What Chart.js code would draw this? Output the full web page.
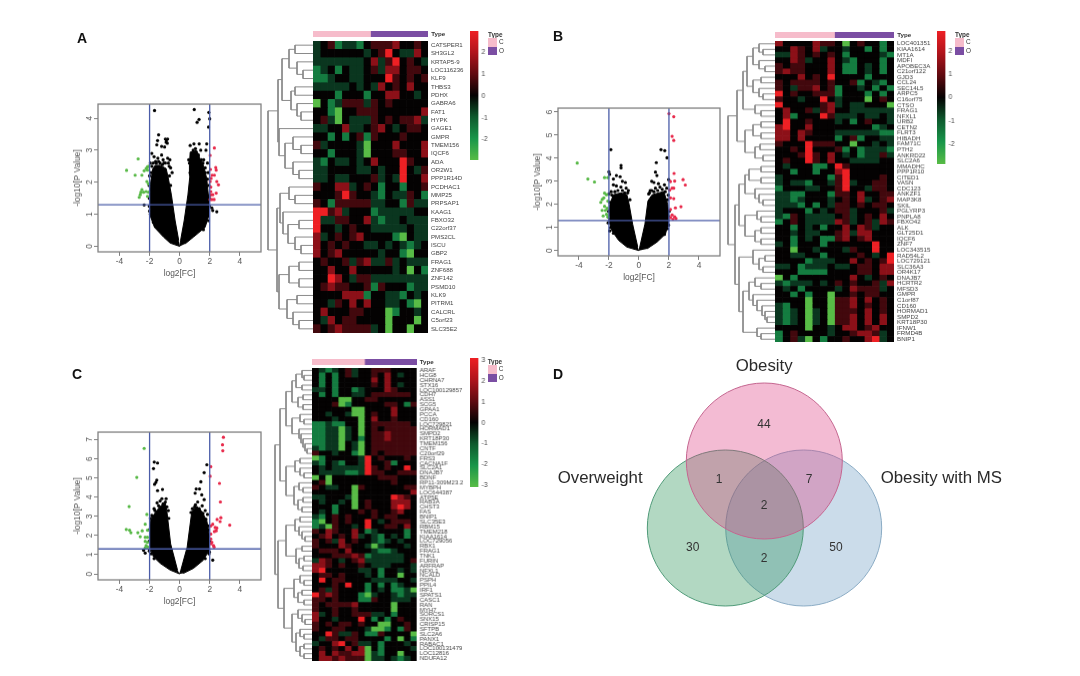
<!DOCTYPE html>
<html>
<head>
<meta charset="utf-8">
<style>
  html, body { margin: 0; padding: 0; background: #fff; }
  #page { position: relative; width: 1080px; height: 676px; overflow: hidden; filter: blur(0.4px); font-family: "Liberation Sans", Arial, sans-serif; }
  #page canvas { position: absolute; }
  .txt { position: absolute; white-space: nowrap; line-height: 1; color: #333; }
  .key { position: absolute; }
</style>
<script src="https://cdn.jsdelivr.net/npm/chart.js@4/dist/chart.umd.min.js"></script>
</head>
<body>
<div id="page"></div>
<script>
// ---- volcano data: [log2FC, -log10P]
const xTicks = [-4, -2, 0, 2, 4];
const fcCuts = [-2, 2];
const pCut = 1.3;

const aLeftLobe = [[0,0],[-.63,.1],[-1.07,.29],[-1.67,.59],[-1.92,.9],[-2,1.36],[-2,1.71],[-1.92,2.02],[-1.78,2.43],[-1.63,2.53],[-1.3,2.53],[-.9,2.43],[-.75,2.12],[-.55,1.61],[-.3,.8],[-.06,.18]];
const aRightLobe = [[0,0],[.06,.18],[.3,.8],[.55,1.61],[.68,2.2],[.65,2.53],[.7,2.94],[1.14,2.99],[1.36,2.73],[1.58,2.53],[1.8,2.12],[1.95,1.41],[1.9,.9],[1.69,.59],[.92,.29],[.37,.08]];
const aBlack = [[-1.67,4.24],[.97,4.27],[1.94,4.18],[2,3.98],[1.29,3.96],[1.16,3.87],[1.92,3.72],[-1.4,3.48],[-1.47,3.3],[-1.52,3.17],[-1.2,3.12],[-.95,3.35],[-.88,3.32],[-.8,3.35],[-.9,3.25],[-.82,3.22],[-1,3.1],[.7,3.15],[.95,3.2],[1.3,3.2],[1.8,3.2],[1.4,3],[1.75,3],[-1.85,2.9],[-1.7,2.8],[-1.45,2.75],[-1.2,2.85],[-1.1,2.7],[-.8,2.75],[-.65,2.7],[-1.95,2.6],[-1.6,2.65],[-1.3,2.6],[-.95,2.6],[.8,2.85],[1,2.8],[1.15,2.75],[1.6,2.7],[1.85,2.6],[1.7,2.45],[1.9,2.3],[-.6,2.45],[-.5,2.3],[2.14,1.2],[2.2,1.12],[2.47,1.08],[1.92,.8],[1.58,.52],[-2.36,1.29],[-2,1.1],[-1.95,1],[-2.02,1.25],[1.98,1.25],[-1.9,2.3],[-1.85,2.5],[-1.75,2.6],[-1.55,2.6],[-1.4,2.65],[-1.15,2.55],[-1.05,2.6],[-.7,2.5],[-.75,2.6],[-2,2.2],[-2.03,1.9],[-2.02,1.5],[-.68,2.2],[-.6,1.9],[-1.9,.95],[-1.75,.75],[-1.6,.62],[.6,2.7],[.65,2.6],[.7,2.3],[.9,3],[1.05,3.05],[1.25,2.85],[1.45,2.7],[1.55,2.6],[1.7,2.3],[1.85,2.1],[1.95,1.9],[2.02,1.6],[1.98,1.5],[1.85,.95],[1.7,.75]];
const aGreen = [[-2.76,2.73],[-3.53,2.37],[-2.96,2.22],[-2.51,2.22],[-2.36,2.36],[-2.23,2.43],[-2.14,2.48],[-2.05,2.5],[-2.14,2.38],[-2.18,2.02],[-2.07,1.95],[-2.51,1.77],[-2.58,1.69],[-2.4,1.69],[-2.23,1.71],[-2.07,1.69],[-2.62,1.61],[-2.69,1.53],[-2.14,1.56]];
const aRed = [[2.31,3.07],[2.03,2.84],[2.4,2.46],[2.43,2.38],[2.05,2.4],[2.16,2.22],[2.31,2.22],[2.09,2.12],[2.47,2.02],[2.58,1.92],[2.03,2.02],[2.07,1.85],[2.43,1.66],[2.2,1.61],[2.07,1.61],[2.02,1.46],[2.14,1.46],[2.29,1.46],[2.07,1.71]];

const bLeftLobe = [[0,0],[-.8,.15],[-1.35,.44],[-1.8,.86],[-2,1.29],[-1.94,2],[-1.7,2.42],[-1.2,2.5],[-.8,2.42],[-.65,2],[-.42,1.15],[-.08,.16]];
const bRightLobe = [[0,0],[.06,.16],[.4,1.15],[.6,2.15],[.88,2.42],[1.66,2.56],[1.92,2],[2,1.29],[1.77,.72],[1.21,.37],[.55,.08]];
const bBlack = [[-1.87,4.37],[1.47,4.37],[1.72,4.33],[1.87,4.02],[1.16,3.81],[-1.19,3.69],[-1.19,3.58],[-2,3.41],[-1.95,3.3],[-1.5,3.25],[-1.7,3.1],[-1.25,3.2],[-1.1,3],[-.9,2.95],[-1.7,2.85],[-1.5,2.8],[-1.2,2.75],[-.85,2.7],[-.7,2.6],[-1.85,2.55],[-2,2.45],[1.1,3.4],[1.2,3.25],[.85,3],[1,2.95],[1.3,2.9],[1.98,3.07],[1.7,2.85],[1.4,2.75],[1.1,2.7],[.75,2.6],[1.85,2.7],[1.95,2.4],[.65,2.45],[-2.05,1.2],[-1.95,.85],[1.98,1.1],[-2.02,1.45],[1.95,1.5],[-1.8,2.4],[-1.6,2.55],[-1.4,2.6],[-1.1,2.6],[-.95,2.5],[-.75,2.5],[-1.95,2.1],[-2.02,1.7],[-.6,2.2],[-1.9,1],[-1.7,.75],[.7,2.5],[.85,2.6],[1,2.55],[1.25,2.6],[1.55,2.65],[1.75,2.55],[1.9,2.2],[2.02,1.7],[1.9,.95],[1.7,.7]];
const bGreen = [[-4.11,3.79],[-3.4,3.1],[-2.96,2.97],[-2.29,3.16],[-2.07,3.16],[-2.29,2.49],[-2.16,2.42],[-2.45,2.21],[-2.54,2.09],[-2.07,2.14],[-2.29,1.92],[-2.45,1.74],[-2.23,1.74],[-2.12,1.83],[-2.38,1.5],[-2.16,1.57],[-2.07,1.46],[-2.34,2.28]];
const bRed = [[2,5.93],[2.32,5.8],[2.21,4.95],[2.32,4.77],[2.34,3.34],[2.94,3.07],[3.09,2.84],[2.38,3.01],[2.1,2.99],[2.21,2.7],[2.32,2.7],[2.05,2.62],[2.1,2.28],[2.32,2.25],[2.8,1.9],[2.43,1.85],[2.1,1.78],[2.21,1.54],[2.38,1.46],[2.1,1.43],[2.47,1.39],[2.27,1.36]];

const cLeftLobe = [[0,0],[-.63,.2],[-1.29,.55],[-1.74,.89],[-2,1.4],[-2,2.08],[-1.96,2.76],[-1.63,3.19],[-1.29,3.53],[-.96,3.7],[-.85,3.27],[-.6,1.57],[-.14,.2]];
const cRightLobe = [[0,0],[.08,.2],[.5,1.4],[.81,3.27],[1.14,3.53],[1.47,3.27],[1.81,2.76],[1.96,2.08],[1.96,1.23],[1.58,.72],[.92,.29],[.25,.03]];
const cBlack = [[-1.69,5.83],[-1.47,5.78],[-1.74,5.49],[-1.52,4.89],[-1.58,4.77],[-1.67,4.67],[-1.47,4.34],[-1.14,4.4],[1.81,5.69],[1.63,5.28],[1.41,4.8],[1.1,4.43],[1.32,4.43],[1.03,4.21],[1.47,4.12],[1.63,3.87],[2.2,.72],[-1.18,3.92],[-.9,3.92],[-2.4,1.23],[-2.29,1.09],[-1.5,3.7],[-1.3,3.8],[-.95,3.75],[-1.7,3.4],[-1.85,3.05],[-1.45,3.15],[1.2,3.75],[1.5,3.55],[1.7,3.3],[1.85,3.1],[1,3.5],[1.9,2.5],[.75,3.2],[-.75,3.3],[-2.02,1.2],[1.98,1.15],[-1.95,2.9],[-1.8,3],[-1.65,3.3],[-1.4,3.55],[-1.1,3.65],[-.85,3.5],[-2.02,2.3],[-2.03,1.7],[-.72,2.9],[-1.9,1.05],[-1.7,.8],[.85,3.4],[1.05,3.6],[1.3,3.4],[1.55,3.15],[1.75,2.85],[1.9,2.3],[2,1.7],[1.95,1.05],[1.7,.8]];
const cGreen = [[-2.36,6.54],[-2.85,5.03],[-3.36,3.51],[-2.18,3.1],[-2.29,2.59],[-3.55,2.32],[-3.33,2.28],[-3.24,2.15],[-2.78,2.15],[-2.49,2.25],[-2.14,2.28],[-2.62,1.94],[-2.29,1.91],[-2.14,1.91],[-2.29,1.7],[-2.14,1.65],[-2.23,1.48],[-2.12,1.4],[-2.29,1.36]];
const cRed = [[2.91,7.12],[2.85,6.73],[2.87,6.42],[2.07,5.59],[2.03,5.09],[2.65,4.72],[2.71,3.75],[2.74,2.93],[2.49,2.84],[2.69,2.73],[3.33,2.54],[2.2,2.59],[2.07,2.5],[2.36,2.42],[2.47,2.39],[2.43,2.25],[2.31,2.21],[2.07,2.08],[2.07,1.82],[2.14,1.65],[2.25,1.48],[2.29,1.4],[2.09,1.57]];

// ---- heatmap rows, estimated from the crops (16 samples, 8 C then 8 O)
const typeNames = ["C", "O"];
const typeCounts = [8, 8];

const genesA = ["CATSPER1","SH3GL2","KRTAP5-9","LOC116236","KLF9","THBS3","PDHX","GABRA6","FAT1","HYPK","GAGE1","GMPR","TMEM156","IQCF6","ADA","OR2W1","PPP1R14D","PCDHAC1","MMP25","PRPSAP1","KAAG1","FBXO32","C22orf37","PMS2CL","ISCU","GBP2","FRAG1","ZNF688","ZNF142","PSMD10","KLK9","PITRM1","CALCRL","C5orf23","SLC35E2"];
const heatA = [
[-1,0,1,-2,-1,-1,-2,0,1,1,1,2,0,0,1,0],
[-1,0,0,0,0,0,0,-1,0,1,3,0,-1,-1,2,0],
[-1,-1,-1,-1,-1,-1,-1,0,2,-1,1,3,0,1,0,-1],
[-2,-1,0,-2,0,-1,-1,0,1,-1,2,2,0,1,1,0],
[-2,-2,-1,0,0,-1,-1,0,0,0,3,1,0,1,0,1],
[-1,-1,-1,-1,-1,0,-1,0,-1,2,0,1,0,2,0,0],
[0,0,0,-2,0,0,0,-2,0,0,2,2,0,0,-1,0],
[-3,0,-2,-1,1,1,1,-1,1,0,1,0,0,0,0,0],
[0,0,-2,-3,0,0,1,1,1,0,0,0,0,0,0,2],
[0,1,-1,-3,0,-1,-1,-1,1,0,1,0,1,1,2,-1],
[-1,-1,0,0,2,-1,-1,0,1,2,0,-1,0,1,1,0],
[0,0,-2,0,-2,0,1,-2,1,0,0,0,1,0,0,0],
[1,-1,0,0,0,0,-1,-3,0,0,0,2,0,0,0,2],
[0,0,-2,0,0,0,-1,-3,0,0,0,1,1,0,0,2],
[-1,-2,0,-1,-1,0,-1,0,2,0,0,0,3,1,0,0],
[-1,-1,0,0,0,0,-1,-1,0,-1,0,0,3,0,-1,1],
[-1,-1,0,-1,-1,0,0,0,1,-1,0,-1,3,0,0,2],
[1,0,0,2,2,-1,0,1,0,-2,0,0,-2,0,0,1],
[0,0,0,1,3,1,0,0,-1,-2,0,-1,-1,1,0,-2],
[1,0,-2,1,1,1,1,1,-1,-1,0,0,-2,1,-1,-1],
[3,3,1,2,-1,0,0,0,-2,-1,-1,-1,-1,-1,0,0],
[3,-1,-1,1,1,0,0,2,-1,-2,-1,-1,0,-1,-1,-1],
[3,0,0,-1,0,1,0,0,-1,-1,-1,-1,-1,0,-1,-1],
[2,-1,0,1,0,1,2,0,0,0,0,-2,-3,0,-1,-1],
[2,0,1,0,1,0,0,-1,-1,0,-1,0,-1,-2,-1,0],
[2,0,1,2,0,0,0,0,0,-1,0,0,-2,-3,0,0],
[0,1,0,0,1,-1,1,2,-1,-1,1,-1,0,-1,-1,-1],
[0,0,2,0,0,2,0,0,0,0,0,-1,0,-3,0,-2],
[0,0,3,2,0,-1,1,1,-1,-1,-1,-1,-1,-1,-1,-1],
[0,1,2,1,1,0,0,1,-2,1,0,0,0,-2,-1,-1],
[0,0,0,0,2,2,2,-2,0,0,-1,-1,-2,0,-1,0],
[0,0,-1,1,0,2,0,2,0,0,-1,-1,0,-2,-3,0],
[0,2,0,0,0,1,1,0,0,0,-3,-2,0,0,-1,0],
[0,-1,2,0,1,1,0,0,0,0,-3,0,0,0,-3,0],
[1,0,1,2,1,1,1,1,-1,0,-3,0,0,-3,0,0]
];

const genesB = ["LOC401351","KIAA1614","MT1A","MDFI","APOBEC3A","C21orf122","GJD3","CCL24","SEC14L5","ARPC5","C16orf75","CTSO","FRAG1","NFXL1","URB2","CETN2","FLRT3","HIBADH","FAM71C","PTH2","ANKRD22","SLC2A6","MMADHC","PPP1R10","CITED1","VASN","CDC123","ANKZF1","MAP3K8","SKIL","PGLYRP3","PNPLA8","FBXO42","ALK","GLT25D1","IQCF6","ZNF7","LOC343515","RAD54L2","LOC729121","SLC36A3","OR4K17","DNAJB7","HCRTR2","MFSD3","GMPR","C1orf87","CD160","HORMAD1","SMPD2","KRT18P30","IFNW1","FRMD4B","BNIP1"];
const heatB = [
[2,0,0,0,0,2,1,1,0,-3,0,1,0,0,-2,0],
[0,0,2,1,0,2,-1,0,0,-1,0,0,-2,0,-2,0],
[-1,-1,2,1,0,1,0,1,0,-2,0,0,0,0,-1,-2],
[0,0,2,1,-1,0,0,2,0,-1,-2,0,0,0,-2,0],
[1,0,1,1,0,0,0,2,0,-2,-2,0,-1,0,-2,0],
[1,2,1,1,0,0,0,2,0,-2,-2,0,-1,0,-2,0],
[0,0,0,2,0,1,0,3,0,0,0,0,-2,0,0,0],
[1,0,1,1,1,1,0,1,0,0,1,-2,0,-1,-2,0],
[1,0,-1,1,1,2,0,1,-2,0,0,-1,0,-2,0,-2],
[3,0,1,0,0,1,1,1,-2,0,0,0,-2,0,-2,0],
[1,0,0,-1,0,0,3,0,-1,0,0,0,-3,0,1,0],
[3,0,0,0,0,0,1,2,-1,0,-1,-1,0,0,0,-3],
[0,2,0,0,1,-1,1,2,0,0,-1,-1,-1,-1,-1,-1],
[0,2,-2,0,0,0,3,1,-1,-1,-1,0,-1,-1,0,-1],
[0,3,0,0,1,0,0,0,-1,0,-2,0,1,0,0,-1],
[2,3,0,0,2,0,0,0,0,0,0,0,0,-2,-1,0],
[2,2,0,2,1,0,0,0,-1,-1,-1,-1,-1,-1,-2,-2],
[2,2,0,2,0,0,0,0,-2,0,1,-2,0,0,-1,-1],
[1,0,0,0,3,1,1,1,0,0,-3,0,0,-1,0,-1],
[0,0,1,0,3,0,0,0,1,-2,0,-2,-1,-1,-1,-2],
[0,0,0,1,3,1,0,2,0,-1,0,-2,-1,-1,1,-1],
[0,1,0,0,3,1,0,2,0,0,-1,-1,-1,-1,0,0],
[0,-1,0,0,0,-2,-2,0,3,1,0,0,0,0,0,0],
[0,0,-2,0,0,-2,0,0,2,3,0,0,0,0,0,0],
[-1,0,0,0,0,0,0,-2,1,3,0,0,0,0,1,0],
[-1,0,-1,-1,-2,0,0,-1,1,3,-1,0,0,1,1,0],
[-2,0,0,0,-1,-1,0,0,1,3,0,0,-1,1,1,0],
[-1,-1,-2,-2,0,0,0,-2,1,1,0,2,0,0,1,1],
[-1,-1,-2,-1,0,0,0,-1,0,1,0,2,-1,0,1,2],
[-1,-1,-1,-2,0,-2,0,-1,1,1,0,1,0,1,1,0],
[-1,0,0,0,-2,0,-1,0,1,1,-1,0,0,0,1,-1],
[-1,-2,1,0,-1,-1,-1,-1,0,1,-1,0,1,0,2,0],
[-2,0,1,0,-1,-1,-1,-1,2,1,-1,0,1,-1,2,1],
[0,0,-2,0,-1,0,-2,0,0,2,0,2,1,-1,0,0],
[0,0,-1,0,-1,-1,0,0,1,2,-1,2,2,0,0,0],
[0,0,-2,0,-1,0,-2,-2,1,2,0,1,2,0,0,0],
[-1,0,-2,0,0,0,-2,0,0,0,0,0,0,3,0,0],
[0,0,-3,0,0,-1,0,0,0,-1,1,0,0,3,0,0],
[0,0,-1,-1,0,0,-2,0,0,0,0,1,0,-1,0,3],
[0,0,0,0,-2,-1,-1,-1,0,0,2,0,1,0,1,3],
[-1,-1,0,-2,-1,-1,-1,0,-1,-1,0,1,1,0,2,2],
[0,0,0,-2,-2,-2,-2,0,0,0,0,1,1,0,2,2],
[-3,0,-2,0,0,0,0,0,0,0,2,0,-1,0,1,0],
[-1,-2,-1,-1,-1,0,-1,0,1,0,1,0,0,1,-1,2],
[0,-1,0,-2,0,0,0,0,-1,0,2,1,1,1,-1,0],
[0,0,-2,0,-2,0,0,-3,0,0,1,0,1,1,0,0],
[0,0,0,0,-3,0,0,-3,1,1,2,0,2,0,1,0],
[-1,-2,0,0,-3,0,0,-3,1,1,2,0,1,0,1,0],
[-1,-2,-1,0,-3,-1,0,-3,1,1,1,0,2,0,1,0],
[-1,-2,-1,0,-3,-1,0,-3,1,1,2,0,2,0,2,0],
[-1,-2,-1,0,-3,-1,0,-3,1,1,2,0,2,0,2,0],
[0,0,0,0,-3,0,0,-1,0,2,2,0,1,2,0,0],
[-2,0,1,0,0,0,0,-1,0,0,1,2,2,1,-1,0],
[-2,0,1,-1,-3,0,-2,0,0,1,0,0,2,3,-1,0]
];

const genesC = ["ARAF","HCG8","CHRNA7","STX16","LOC100129857","CDH7","ASS1","SCG5","GPAA1","PCCA","CD160","LOC729821","HORMAD1","SMPD2","KRT18P30","TMEM156","CNTF","C20orf29","FRS3","CACNA1F","SLC2A1","DNAJB7","BDNF","RP11-309M23.2","MYBPH","LOC644387","ATP5E","RAB3A","CHST3","FAS","BNIP1","SLC35E3","RBM15","TMEM218","KIAA1614","LOC729056","RBX1","FRAG1","TNK1","FURIN","ARFRAP","NFXL1","NCALD","PSPH","PPIL4","IRF1","SPATS1","CASC1","RAN","MYH7","SORCS1","SNX15","CRISP15","SFTPB","SLC2A6","PANX1","RABAC1","LOC100131479","LOC12816","NDUFA12"];
const heatC = [
[0,-1,-2,-1,0,1,-1,0,0,1,1,1,0,0,0,0],
[0,-2,0,-2,0,1,-1,0,0,1,0,2,0,-1,0,0],
[0,-2,0,-2,0,0,0,0,0,2,0,2,0,0,0,0],
[0,-2,0,-2,0,0,0,0,0,1,0,2,0,-1,0,0],
[-1,-1,0,-2,0,0,-2,-1,0,0,0,2,1,0,0,0],
[0,-2,0,-2,0,0,-1,-1,0,1,1,1,1,1,1,0],
[0,0,0,0,-3,-3,0,0,1,1,0,0,0,0,0,0],
[0,0,0,1,-3,-2,0,0,0,0,0,1,1,0,-2,1],
[0,0,0,0,0,0,-3,-3,0,0,0,0,2,0,0,0],
[0,0,-1,0,0,-1,-3,-3,0,1,0,0,2,0,0,0],
[0,0,0,-1,0,0,0,-3,0,2,0,0,1,0,0,0],
[-2,-2,-1,-2,-2,0,0,-3,0,1,1,1,1,1,1,0],
[-2,-2,-1,-1,-3,-1,0,-3,0,1,0,1,1,1,1,1],
[-2,-2,-1,-1,-3,-1,0,-3,0,1,1,2,1,1,1,1],
[-2,-2,-1,-1,-3,-1,0,-2,0,1,1,2,1,1,1,1],
[-2,-2,-1,-1,-3,0,-1,-3,0,1,1,1,1,1,1,1],
[-1,-2,-1,-1,-3,0,-1,-3,0,1,1,1,1,1,1,1],
[1,0,0,-1,0,0,-2,-3,0,1,0,1,1,1,1,1],
[-3,-2,0,0,0,0,0,-1,3,0,1,0,0,0,1,0],
[-1,-2,0,-1,-2,0,0,-1,3,0,0,1,-2,0,0,0],
[0,-1,0,-1,-1,-1,-1,-1,3,1,0,1,0,0,3,0],
[0,-1,-1,-1,-1,-2,-2,-1,3,1,1,0,0,1,1,1],
[-3,0,-3,0,0,0,0,0,0,0,1,1,1,0,0,0],
[0,1,-3,0,0,0,0,0,0,0,0,0,1,0,0,0],
[1,0,-1,-1,0,0,-3,1,0,0,0,0,0,0,1,1],
[0,0,0,0,0,0,-3,0,0,0,0,0,0,0,0,2],
[-1,-1,0,0,0,-1,-3,0,0,0,0,0,3,2,1,0],
[0,-1,0,0,-1,0,-3,0,1,0,0,0,2,2,2,0],
[0,0,0,-2,0,0,-3,0,1,0,0,0,2,3,2,0],
[0,-1,0,-2,0,0,0,1,0,1,0,0,1,2,0,0],
[-1,-2,0,1,0,1,0,0,0,1,0,1,1,0,0,0],
[-2,-3,0,1,0,1,0,0,3,0,-1,0,1,1,1,0],
[-2,-1,-3,1,0,0,-1,0,3,0,0,1,1,0,2,0],
[1,0,2,1,0,0,2,0,-2,-1,0,0,0,0,-2,0],
[0,1,2,0,1,0,2,-1,0,-1,-2,0,-1,0,-2,0],
[1,0,1,-1,2,0,1,0,0,-1,-2,-1,0,-1,0,0],
[1,0,0,0,2,1,0,0,-1,-3,-1,0,0,0,-1,0],
[0,1,1,1,0,2,0,0,0,-1,-2,-2,-1,0,0,0],
[0,0,0,1,1,1,2,1,-2,-1,-1,-1,-1,-1,0,0],
[-1,2,1,0,-1,0,1,2,-1,-1,-1,-1,-1,-1,0,1],
[2,2,1,0,1,0,0,1,0,-1,-1,-1,0,0,0,-1],
[2,3,0,0,0,0,0,-1,-1,0,-2,0,0,-1,0,-1],
[0,1,1,0,1,0,0,0,-1,0,-2,0,0,-3,0,0],
[0,3,0,1,1,0,0,0,0,-1,-1,-1,-1,0,0,-1],
[0,0,0,1,0,3,0,0,-2,0,-2,0,-2,-1,0,0],
[0,1,-1,1,0,0,0,0,-2,0,-1,0,-2,-2,-1,-3],
[3,1,2,1,0,0,0,-2,-3,-1,0,0,-1,-2,-1,-1],
[1,1,0,1,0,0,0,-2,-2,1,0,0,-1,-1,-1,0],
[1,0,1,1,1,1,2,0,0,0,0,0,-3,0,0,0],
[1,0,0,1,0,0,1,0,0,0,0,0,-3,0,0,0],
[2,-1,0,1,0,0,1,1,1,-1,-1,0,-2,0,0,0],
[2,0,0,-1,0,0,0,3,0,-2,0,-2,0,1,0,0],
[1,0,1,0,1,1,0,1,0,0,-3,-3,0,0,1,0],
[1,0,0,1,1,0,0,0,-1,-3,-3,-2,0,-2,1,0],
[0,0,3,1,-1,-1,1,0,-2,-2,1,0,0,0,0,-3],
[0,-1,1,1,0,1,1,0,0,0,0,-2,0,-3,0,-2],
[-1,0,0,2,3,0,1,-1,-1,0,-2,0,0,0,-1,0],
[0,1,0,1,0,2,0,2,-3,0,-2,0,0,0,0,-1],
[0,2,0,2,1,1,2,2,-3,-1,-2,0,0,-3,0,0],
[0,2,2,1,2,1,1,1,-3,-1,-1,0,-1,-2,-1,0]
];

// dendrograms: [height, upper, lower], 0 is a leaf (row order top to bottom)
const treeA = [45,
  [35,[31,[24,[18,0,0],[16,0,[10,0,0]]],[22,[18,0,0],[16,0,[12,0,0]]]],
      [34,0,[28,[20,0,[12,0,0]],[20,0,[14,0,0]]]]],
  [36,[33,[24,0,[18,0,0]],[30,0,[25,[14,0,0],[18,0,[12,0,0]]]]],
      [34,[24,[14,0,0],[14,0,0]],[26,[16,0,0],[20,0,[14,0,0]]]]]];
const treeB = [47,
  [38,[32,[28,[22,[16,0,[12,0,0]],[16,0,[10,0,0]]],[22,[14,0,0],[16,0,[12,0,0]]]],[20,0,[14,0,0]]],
      [30,[22,[14,0,0],[14,0,0]],[20,[15,0,0],[12,0,0]]]],
  [40,[36,[30,[26,[14,0,0],[14,0,0]],[20,0,[16,0,[12,0,0]]]],[30,[18,0,[14,0,0]],[20,[14,0,0],[14,0,0]]]],
      [36,[22,0,[16,[10,0,0],[12,0,0]]],[32,[26,[20,0,[14,0,0]],[22,0,[18,0,[13,0,[10,0,[8,0,0]]]]]],[18,0,[14,0,0]]]]]];
const treeC = [37,
  [32,[26,[20,[16,[10,0,[8,0,0]],[10,0,0]],[14,[9,0,0],[9,0,0]]],[20,[12,0,[8,0,0]],[13,0,[11,0,[9,0,[7,0,[5,0,0]]]]]]],
      [26,[17,[12,0,0],[12,0,[8,0,0]]],[18,[13,0,[9,0,0]],[14,[9,0,0],[10,0,0]]]]],
  [34,[26,[17,[12,0,0],[13,0,[10,0,[7,0,0]]]],[16,[10,0,0],[13,[8,0,0],[9,0,0]]]],
      [28,[18,[12,0,[8,0,0]],[14,[10,0,0],[8,0,0]]],[20,[14,0,[10,0,[7,0,0]]],[16,[12,0,[8,0,0]],[12,[8,0,0],[8,0,0]]]]]]];

// ---- venn
const vennNames = ["Obesity", "Overweight", "Obesity with MS"];
const vennCounts = [44, 1, 7, 2, 30, 2, 50];

// ---- drawing
const page = document.getElementById("page");
const gridOff = { display: false, drawTicks: false };
const borderOff = { display: false };
const FONT = "'Liberation Sans', Arial, sans-serif";
Chart.defaults.font.family = FONT;
Chart.defaults.animation = false;
Chart.defaults.responsive = false;
Chart.defaults.layout.autoPadding = false;
Chart.defaults.plugins.legend.display = false;
Chart.defaults.plugins.tooltip.enabled = false;

const makeCtx = (x, y, w, h) => {
  const c = document.createElement("canvas");
  c.width = w; c.height = h;
  c.style.left = x + "px"; c.style.top = y + "px";
  c.style.width = w + "px"; c.style.height = h + "px";
  page.appendChild(c);
  return c.getContext("2d");
};

const addText = (text, x, y, size, extra = {}) => {
  const d = document.createElement("div");
  d.className = "txt";
  d.textContent = text;
  d.style.left = x + "px"; d.style.top = y + "px"; d.style.fontSize = size + "px";
  Object.assign(d.style, extra);
  page.appendChild(d);
};

const addKey = (x, y, w, h, color) => {
  const d = document.createElement("div");
  d.className = "key";
  Object.assign(d.style, { left: x + "px", top: y + "px", width: w + "px", height: h + "px", background: color });
  page.appendChild(d);
};

const noVerticalPad = (s, width) => {
  s.width = width;
  s.paddingTop = 0;
  s.paddingBottom = 0;
};

const boxPlugin = {
  id: "box",
  afterDatasetsDraw(chart) {
    const { ctx, chartArea: a } = chart;
    ctx.save();
    ctx.strokeStyle = "#808080";
    ctx.lineWidth = 1.3;
    ctx.strokeRect(a.left, a.top, a.width, a.height);
    ctx.restore();
  },
};

const toPts = (list) => list.map(([x, y]) => ({ x, y }));

const renderVolcano = (o) => {
  const left = o.box[0] - 30, top = o.box[1] - 4;
  const w = o.box[2] - o.box[0] + 36, h = o.box[3] - o.box[1] + 31;
  const dots = (data, color, order) => ({ data: toPts(data), backgroundColor: color, borderWidth: 0, pointRadius: 1.6, order });
  const lobe = (data) => ({ data: toPts(data), showLine: true, fill: "shape", borderColor: "#000", backgroundColor: "#000", borderWidth: 1, pointRadius: 0, tension: 0, order: 4 });
  const rule = (data) => ({ data, showLine: true, borderColor: "#4a5ca8", borderWidth: 1.3, pointRadius: 0, order: 0 });
  new Chart(makeCtx(left, top, w, h), {
    type: "scatter",
    data: {
      datasets: [
        lobe(o.leftLobe), lobe(o.rightLobe),
        dots(o.black, "#000", 3), dots(o.red, "#e8294a", 2), dots(o.green, "#58b947", 2),
        ...fcCuts.map((c) => rule([{ x: c, y: o.yRange[0] }, { x: c, y: o.yRange[1] }])),
        rule([{ x: o.xRange[0], y: pCut }, { x: o.xRange[1], y: pCut }]),
      ],
    },
    options: {
      layout: { padding: { top: 4, right: 6, left: 0, bottom: 0 } },
      scales: {
        x: {
          min: o.xRange[0], max: o.xRange[1],
          afterBuildTicks: (s) => { s.ticks = xTicks.map((value) => ({ value })); },
          afterFit: (s) => { s.height = 27; },
          grid: { drawOnChartArea: false, tickLength: 4, color: "#808080" }, border: borderOff,
          ticks: { color: "#555", font: { size: 8.4 }, padding: 1, maxRotation: 0 },
          title: { display: true, text: "log2[FC]", color: "#555", font: { size: 8.4 }, padding: { top: 2, bottom: 0 } },
        },
        y: {
          min: o.yRange[0], max: o.yRange[1],
          afterBuildTicks: (s) => { s.ticks = o.yTicks.map((value) => ({ value })); },
          afterFit: (s) => { s.width = 30; },
          grid: { drawOnChartArea: false, tickLength: 4, color: "#808080" }, border: borderOff,
          ticks: { color: "#555", font: { size: 8.4 }, padding: 2, minRotation: 90, maxRotation: 90, crossAlign: "center" },
          title: { display: true, text: "-log10[P Value]", color: "#555", font: { size: 8.4 }, padding: { top: 5, bottom: 0 } },
        },
      },
    },
    plugins: [boxPlugin],
  });
};

const ramp = [
  [-3, [88, 188, 70]], [-2, [20, 124, 64]], [-1, [10, 54, 31]], [0, [4, 2, 2]],
  [1, [66, 8, 13]], [2, [140, 16, 24]], [3, [238, 32, 36]],
];
const cellColor = (v) => {
  const hit = ramp.find(([stop]) => stop === v) || ramp[3];
  return `rgb(${hit[1].join(",")})`;
};

const renderHeat = (o) => {
  const [x0, y0, x1, y1] = o.rect;
  const labelW = 60;
  const nCols = o.rows[0].length;
  const datasets = [];
  for (let j = 0; j < nCols; j++) {
    datasets.push({
      data: o.rows.map(() => 1),
      backgroundColor: o.rows.map((row) => cellColor(row[j])),
      barPercentage: 1, categoryPercentage: 1, borderWidth: 0,
    });
  }
  new Chart(makeCtx(x0, y0, x1 - x0 + labelW, y1 - y0), {
    type: "bar",
    data: { labels: o.genes, datasets },
    options: {
      indexAxis: "y",
      scales: {
        x: { display: false, stacked: true, min: 0, max: nCols },
        y: {
          stacked: true, position: "right",
          afterFit: (s) => noVerticalPad(s, labelW),
          grid: gridOff, border: borderOff,
          ticks: { autoSkip: false, color: "#444", font: { size: o.fontSize }, padding: o.pad },
        },
      },
    },
  });
  // pink / purple annotation strip
  const [ax0, ay0, ay1] = o.strip;
  new Chart(makeCtx(ax0, ay0, x1 - x0, ay1 - ay0), {
    type: "bar",
    data: {
      labels: ["Type"],
      datasets: typeNames.map((name, i) => ({
        label: name, data: [typeCounts[i]], backgroundColor: ["#f6bccb", "#7b4ea3"][i],
        barPercentage: 1, categoryPercentage: 1, borderWidth: 0,
      })),
    },
    options: {
      indexAxis: "y",
      scales: {
        x: { display: false, stacked: true, min: 0, max: nCols },
        y: { display: false, stacked: true },
      },
    },
  });
  addText("Type", x1 + 3, ay0, 6.2, { fontWeight: "bold" });
};

const flatten = (node, state, segs) => {
  if (node === 0) return state.row++;
  const [h, a, b] = node;
  const childEnd = (kid) => {
    const y = flatten(kid, state, segs);
    segs.push({ x: kid === 0 ? 0 : kid[0], y }, { x: h, y }, { x: NaN, y: NaN });
    return y;
  };
  const ya = childEnd(a), yb = childEnd(b);
  segs.push({ x: h, y: ya }, { x: h, y: yb }, { x: NaN, y: NaN });
  return (ya + yb) / 2;
};

const renderTree = (o) => {
  const segs = [];
  flatten(o.tree, { row: 0 }, segs);
  const w = o.tree[0] + 2;
  const [x0, y0, , y1] = o.rect;
  new Chart(makeCtx(x0 - w, y0, w, y1 - y0), {
    type: "scatter",
    data: { datasets: [{ data: segs, showLine: true, borderColor: "#8a8a8a", borderWidth: 1, pointRadius: 0, spanGaps: false }] },
    options: {
      scales: {
        x: { display: false, reverse: true, min: 0, max: w },
        y: { display: false, reverse: true, min: -0.5, max: o.rows.length - 0.5 },
      },
    },
  });
};

const renderColorBar = (o) => {
  const [x0, y0, x1, y1] = o.bar;
  const labelW = 14, pad = 4;
  new Chart(makeCtx(x0, y0 - pad, x1 - x0 + labelW, y1 - y0 + 2 * pad), {
    type: "bar",
    data: {
      labels: [""],
      datasets: [{
        data: [[o.range[0], o.range[1]]],
        barPercentage: 1, categoryPercentage: 1, borderWidth: 0,
        backgroundColor: (c) => {
          const a = c.chart.chartArea;
          if (!a) return "#000";
          const g = c.chart.ctx.createLinearGradient(0, a.bottom, 0, a.top);
          [[88, 188, 70], [24, 150, 74], [14, 90, 46], [4, 2, 2], [96, 10, 16], [176, 20, 28], [238, 32, 36]].forEach((rgb, i) => g.addColorStop(i / 6, `rgb(${rgb.join(",")})`));
          return g;
        },
      }],
    },
    options: {
      layout: { padding: { top: pad, bottom: pad } },
      scales: {
        x: { display: false },
        y: {
          position: "right", min: o.range[0], max: o.range[1],
          afterBuildTicks: (s) => { s.ticks = o.ticks.map((value) => ({ value })); },
          afterFit: (s) => noVerticalPad(s, labelW),
          grid: gridOff, border: borderOff,
          ticks: { color: "#444", font: { size: 6.4 }, padding: 3 },
        },
      },
    },
  });
  const [kx, ky] = o.key;
  addText("Type", kx, ky - 6, 6.4, { fontWeight: "bold" });
  addKey(kx, ky, 9, 8.5, "#f6bccb");
  addKey(kx, ky + 8.5, 9, 8.5, "#7b4ea3");
  addText(typeNames[0], kx + 11, ky + 1, 6.4);
  addText(typeNames[1], kx + 11, ky + 10, 6.4);
};

const countsPlugin = {
  id: "counts",
  afterDatasetsDraw(chart) {
    const { ctx, scales } = chart;
    const ds = chart.data.datasets.find((d) => d.label === "counts");
    ctx.save();
    ctx.fillStyle = "#333";
    ctx.font = `12px ${FONT}`;
    ctx.textAlign = "center";
    ctx.textBaseline = "middle";
    ds.data.forEach((p) => ctx.fillText(p.v, scales.x.getPixelForValue(p.x), scales.y.getPixelForValue(p.y)));
    ctx.restore();
  },
};

const renderVenn = () => {
  const circle = (x, y, fill, line) => ({ data: [{ x, y }], backgroundColor: fill, borderColor: line, borderWidth: 1, pointRadius: 78, clip: false });
  const spots = [[124, 50], [79, 104.3], [169, 104.3], [124, 130.7], [52.7, 172.7], [124, 183.3], [196, 172.7]];
  new Chart(makeCtx(640, 375, 250, 240), {
    type: "scatter",
    data: {
      datasets: [
        { label: "counts", data: vennCounts.map((v, i) => ({ x: spots[i][0], y: spots[i][1], v })), pointRadius: 0 },
        circle(124.3, 86, "rgba(222,60,130,0.35)", "#c4658f"),
        circle(85.3, 153, "rgba(30,140,75,0.34)", "#4f9a78"),
        circle(163.7, 153, "rgba(70,130,180,0.28)", "#8aabc4"),
      ],
    },
    options: {
      scales: {
        x: { display: false, min: 0, max: 250 },
        y: { display: false, reverse: true, min: 0, max: 240 },
      },
    },
    plugins: [countsPlugin],
  });
  addText(vennNames[0], 735.7, 358, 16.8, { color: "#2a2a2a" });
  addText(vennNames[1], 557.7, 469.5, 16.8, { color: "#2a2a2a" });
  addText(vennNames[2], 880.7, 469.5, 16.8, { color: "#2a2a2a" });
};

renderVolcano({ box: [97.7, 101, 260.7, 251.7], xRange: [-5.43, 5.41], yRange: [-0.174, 4.44], yTicks: [0, 1, 2, 3, 4], leftLobe: aLeftLobe, rightLobe: aRightLobe, black: aBlack, red: aRed, green: aGreen });
renderVolcano({ box: [557.7, 105, 720, 255.7], xRange: [-5.39, 5.4], yRange: [-0.23, 6.17], yTicks: [0, 1, 2, 3, 4, 5, 6], leftLobe: bLeftLobe, rightLobe: bRightLobe, black: bBlack, red: bRed, green: bGreen });
renderVolcano({ box: [97.7, 429.3, 260.7, 580], xRange: [-5.43, 5.41], yRange: [-0.31, 7.39], yTicks: [0, 1, 2, 3, 4, 5, 6, 7], leftLobe: cLeftLobe, rightLobe: cRightLobe, black: cBlack, red: cRed, green: cGreen });

const panels = [
  { rect: [312.7, 40.7, 428.3, 333.3], strip: [312.7, 31, 37.3], rows: heatA, genes: genesA, tree: treeA, fontSize: 6.1, pad: 3, bar: [470, 30.7, 478.7, 160], range: [-2.94, 3], ticks: [-2, -1, 0, 1, 2], key: [488, 38] },
  { rect: [775, 41.3, 894.3, 342], strip: [775, 32, 38], rows: heatB, genes: genesB, tree: treeB, fontSize: 6.2, pad: 3, bar: [937, 30.7, 945.7, 164.3], range: [-2.86, 2.87], ticks: [-2, -1, 0, 1, 2], key: [955, 38.3] },
  { rect: [312.3, 368, 416.7, 660.7], strip: [312.3, 358.7, 365.3], rows: heatC, genes: genesC, tree: treeC, fontSize: 6, pad: 3, bar: [470, 358, 478.7, 487.3], range: [-3.1, 3.13], ticks: [-3, -2, -1, 0, 1, 2, 3], key: [487.7, 365] },
];
panels.forEach((p) => { renderHeat(p); renderTree(p); renderColorBar(p); });
renderVenn();

addText("A", 77, 31, 14, { fontWeight: "bold", color: "#111" });
addText("B", 553, 29, 14, { fontWeight: "bold", color: "#111" });
addText("C", 72, 367, 14, { fontWeight: "bold", color: "#111" });
addText("D", 553, 367, 14, { fontWeight: "bold", color: "#111" });
</script>
</body>
</html>
